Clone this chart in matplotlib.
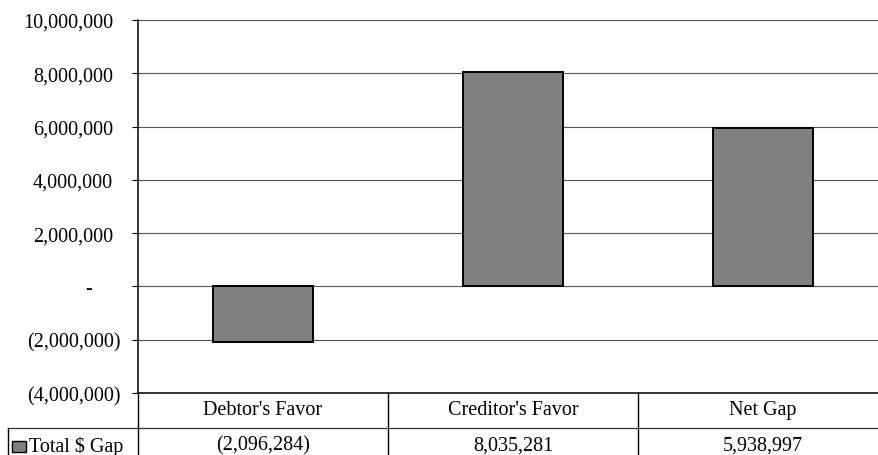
import matplotlib
matplotlib.use("Agg")
import matplotlib.pyplot as plt
import matplotlib.transforms as mtransforms
from matplotlib.lines import Line2D
from matplotlib.patches import Rectangle

categories = ["Debtor's Favor", "Creditor's Favor", "Net Gap"]
values = [-2096284, 8035281, 5938997]
series_name = "Total $ Gap"
yticks = [-4000000, -2000000, 0, 2000000, 4000000, 6000000, 8000000, 10000000]

plt.rcParams['font.family'] = ['Liberation Serif', 'DejaVu Serif']
FS = 14.5

W, H = 879, 456
fig = plt.figure(figsize=(W / 100, H / 100), dpi=100)

def fx(px):
    return px / W

def fy(py):
    return 1 - py / H

ax_left, ax_right, ax_top, ax_bot = 138, 888, 21, 394
ax = fig.add_axes([fx(ax_left), fy(ax_bot), (ax_right - ax_left) / W, (ax_bot - ax_top) / H])

x = list(range(len(categories)))
ax.bar(x, values, width=0.4, color='#808080', edgecolor='black', linewidth=1.4, zorder=3)
ax.set_xlim(-0.5, len(categories) - 0.5)
ax.set_ylim(yticks[0], yticks[-1])
ax.set_yticks(yticks)

def fmt(v):
    if v < 0:
        return "({:,.0f})".format(-v)
    if v == 0:
        return "-"
    return "{:,.0f}".format(v)

ax.set_yticklabels([fmt(v) for v in yticks], fontsize=FS)
ax.tick_params(axis='y', direction='out', length=4.3, width=0.8, pad=7.9, color='black')
ax.set_xticks([])
for lab, v in zip(ax.get_yticklabels(), yticks):
    if v > 0:
        off = -8
    elif v == 0:
        off = -29
    else:
        off = 0
    lab.set_transform(lab.get_transform() + mtransforms.ScaledTranslation(off / 100, 0, fig.dpi_scale_trans))

ax.grid(axis='y', color='#555555', linewidth=0.8, zorder=0)
for s in ['top', 'right', 'bottom']:
    ax.spines[s].set_visible(False)
ax.spines['left'].set_linewidth(1.1)
ax.spines['left'].set_color('black')

# data table
def hline(y, x0, x1, color='black', lw=1.0):
    fig.add_artist(Line2D([fx(x0), fx(x1)], [fy(y), fy(y)], color=color, linewidth=lw, transform=fig.transFigure))

def vline(x_, y0, y1, color='black', lw=1.0):
    fig.add_artist(Line2D([fx(x_), fx(x_)], [fy(y0), fy(y1)], color=color, linewidth=lw, transform=fig.transFigure))

hline(394, 138, 879, lw=1.1)
hline(429, 8, 879, color='#333333', lw=0.9)
vline(138, 394, 456, lw=1.0)
vline(8, 429, 456, lw=1.0)
# category column boundaries
trans = mtransforms.blended_transform_factory(ax.transData, fig.transFigure)
for b in [i + 0.5 for i in x[:-1]]:
    ax.add_artist(Line2D([b, b], [fy(394), fy(456)], color='black', linewidth=1.0,
                         transform=trans, clip_on=False))

for xi, c, v in zip(x, categories, values):
    ax.text(xi, fy(411), c, transform=trans, ha='center', va='center', fontsize=FS, clip_on=False)
    ax.text(xi, fy(446), fmt(v), transform=trans, ha='center', va='center', fontsize=FS, clip_on=False)

fig.add_artist(Rectangle((fx(12), fy(453)), (26 - 12) / W, (453 - 442) / H, facecolor='#808080',
                         edgecolor='black', linewidth=1.0, transform=fig.transFigure))
fig.text(fx(29), fy(447), series_name, ha='left', va='center', fontsize=FS)

fig.savefig("out.png", dpi=100)
